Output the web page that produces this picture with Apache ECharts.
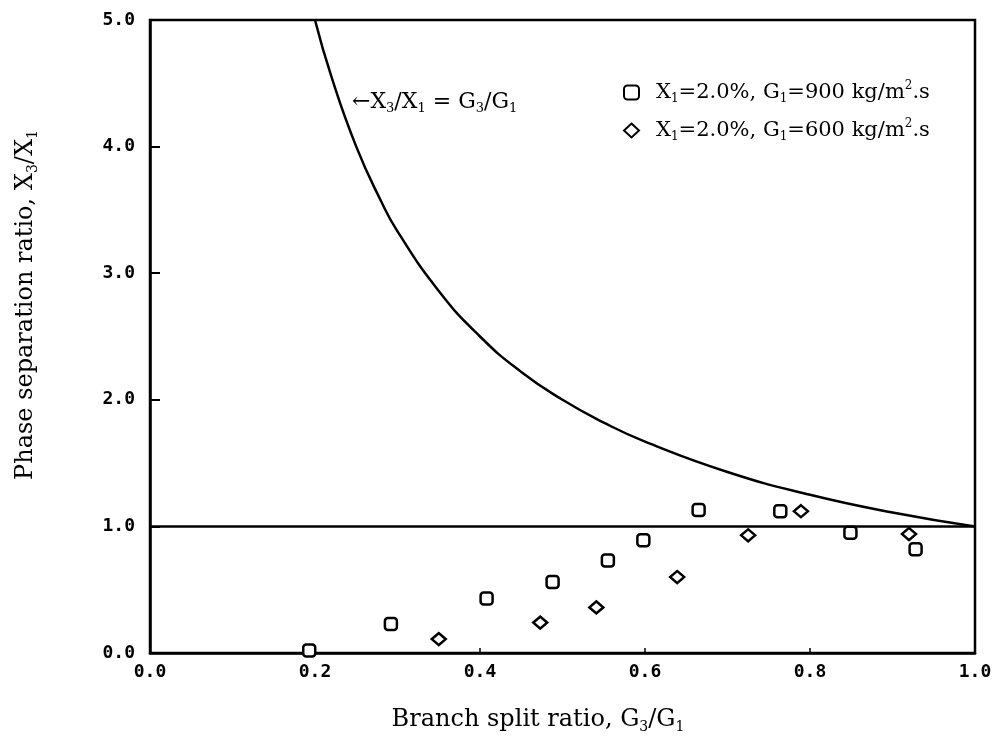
<!DOCTYPE html>
<html>
<head>
    <meta charset="utf-8">
    <title>Phase separation ratio</title>
    <style>
        html, body { margin: 0; padding: 0; background: #fff; }
        #main { width: 997px; height: 747px; }
    </style>
</head>
<body>
    <div id="main"></div>
    <script type="text/javascript" src="https://cdn.jsdelivr.net/npm/echarts@6/dist/echarts.min.js"></script>
    <script type="text/javascript">
        // G1 = 900 kg/m2.s (squares)
        var split900 = [0.193, 0.292, 0.408, 0.488, 0.555, 0.598, 0.665, 0.764, 0.849, 0.928];
        var phase900 = [0.02, 0.23, 0.43, 0.56, 0.73, 0.89, 1.13, 1.12, 0.95, 0.82];
        // G1 = 600 kg/m2.s (diamonds)
        var split600 = [0.35, 0.473, 0.541, 0.639, 0.725, 0.789, 0.92];
        var phase600 = [0.11, 0.24, 0.36, 0.60, 0.93, 1.12, 0.94];
        // X3/X1 = G3/G1 curve
        var curveX = [0.2, 0.22, 0.25, 0.28, 0.3, 0.35, 0.4, 0.45, 0.5, 0.55, 0.6, 0.7, 0.8, 0.9, 1.0];
        var curveY = [5.0, 4.55, 4.0, 3.57, 3.33, 2.86, 2.5, 2.22, 2.0, 1.82, 1.67, 1.43, 1.25, 1.11, 1.0];
        // horizontal reference line X3/X1 = 1
        var unityX = [0.0, 1.0];
        var unityY = [1.0, 1.0];

        var xTicks = { min: 0, max: 1, interval: 0.2 };
        var yTicks = { min: 0, max: 5, interval: 1 };

        function pairs(xs, ys) {
            return xs.map(function(x, i) { return [x, ys[i]]; });
        }

        var serif = '"DejaVu Serif", "Liberation Serif", serif';
        var mono = '"DejaVu Sans Mono", "Liberation Mono", monospace';
        function richSet(size) {
            var s = Math.round(size * 0.58);
            return {
                m: { fontFamily: serif, fontSize: size, color: '#000', lineHeight: size + 4 },
                sub: { fontFamily: serif, fontSize: s, color: '#000', lineHeight: s, verticalAlign: 'bottom' },
                sup: { fontFamily: serif, fontSize: s, color: '#000', lineHeight: s, verticalAlign: 'top' }
            };
        }
        var rich = richSet(21);
        var richAxis = richSet(24);
        var richNote = richSet(22);

        var chart = echarts.init(document.getElementById('main'));
        var option = {
            backgroundColor: '#fff',
            animation: false,
            grid: {
                left: 150, right: 22, top: 20, bottom: 94,
                show: true, borderColor: '#000', borderWidth: 2.5
            },
            legend: {
                orient: 'vertical',
                left: 618, top: 75,
                itemGap: 13,
                itemWidth: 15, itemHeight: 14,
                data: ['g900', 'g600'],
                formatter: function(name) {
                    var g = name === 'g900' ? '900' : '600';
                    return '{m|X}{sub|1}{m|=2.0%, G}{sub|1}{m|=' + g + ' kg/m}{sup|2}{m|.s}';
                },
                textStyle: { rich: rich, padding: [0, 0, 0, 12] }
            },
            xAxis: {
                type: 'value',
                min: xTicks.min, max: xTicks.max, interval: xTicks.interval,
                axisLine: { lineStyle: { color: '#000', width: 2.5 } },
                axisTick: { inside: true, length: 5, lineStyle: { color: '#000', width: 1.5 } },
                splitLine: { show: false },
                axisLabel: {
                    margin: 10,
                    fontFamily: mono, fontSize: 18, fontWeight: 'bold', color: '#000',
                    formatter: function(v) { return v.toFixed(1); }
                }
            },
            yAxis: {
                type: 'value',
                min: yTicks.min, max: yTicks.max, interval: yTicks.interval,
                axisLine: { lineStyle: { color: '#000', width: 2.5 } },
                axisTick: { inside: true, length: 10, lineStyle: { color: '#000', width: 2 } },
                splitLine: { show: false },
                axisLabel: {
                    margin: 15,
                    fontFamily: mono, fontSize: 18, fontWeight: 'bold', color: '#000',
                    formatter: function(v) { return v.toFixed(1); }
                }
            },
            graphic: [{
                type: 'text',
                x: 538, y: 720,
                style: {
                    text: '{m|Branch split ratio, G}{sub|3}{m|/G}{sub|1}',
                    rich: richAxis, align: 'center', verticalAlign: 'middle'
                }
            }, {
                type: 'text',
                x: 26, y: 305,
                rotation: Math.PI / 2,
                style: {
                    text: '{m|Phase separation ratio, X}{sub|3}{m|/X}{sub|1}',
                    rich: richAxis, align: 'center', verticalAlign: 'middle'
                }
            }, {
                type: 'text',
                x: 352, y: 102,
                style: {
                    text: '{m|\u2190X}{sub|3}{m|/X}{sub|1}{m| = G}{sub|3}{m|/G}{sub|1}',
                    rich: richNote, align: 'left', verticalAlign: 'middle'
                }
            }],
            series: [{
                name: 'curve',
                type: 'line',
                smooth: true,
                showSymbol: false,
                data: pairs(curveX, curveY),
                lineStyle: { color: '#000', width: 2.5 },
                z: 2
            }, {
                name: 'unity',
                type: 'line',
                showSymbol: false,
                data: pairs(unityX, unityY),
                lineStyle: { color: '#000', width: 2.5 },
                z: 2
            }, {
                name: 'g900',
                type: 'scatter',
                symbol: 'roundRect',
                symbolSize: 12,
                data: pairs(split900, phase900),
                itemStyle: { color: '#fff', borderColor: '#000', borderWidth: 2.5, opacity: 1 },
                z: 3
            }, {
                name: 'g600',
                type: 'scatter',
                symbol: 'diamond',
                symbolSize: [14, 12],
                data: pairs(split600, phase600),
                itemStyle: { color: '#fff', borderColor: '#000', borderWidth: 2.5, opacity: 1 },
                z: 3
            }]
        };
        chart.setOption(option);
    </script>
</body>
</html>
